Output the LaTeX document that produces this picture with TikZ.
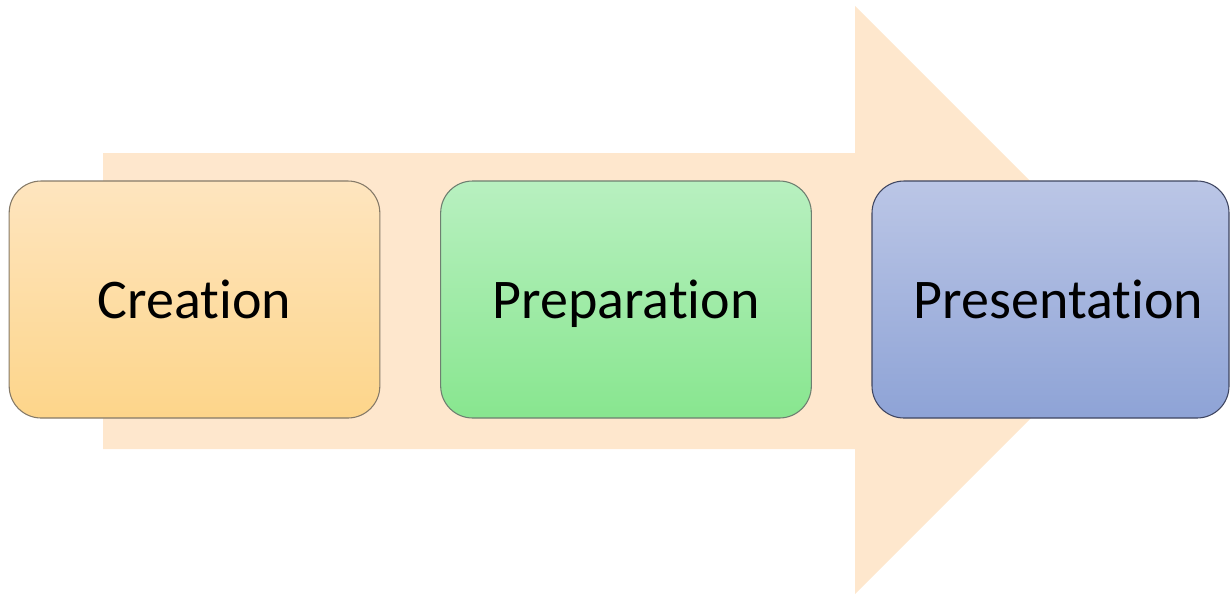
\documentclass[tikz,border=0pt]{standalone}
\usepackage{fontspec}
\setmainfont{Carlito}[Ligatures=NoCommon]
\definecolor{arrowfill}{HTML}{FEE7CD}
\definecolor{creaTop}{HTML}{FEE5BF}
\definecolor{creaBot}{HTML}{FDD58A}
\definecolor{creaLine}{HTML}{857A68}
\definecolor{prepTop}{HTML}{B8F0C0}
\definecolor{prepBot}{HTML}{88E68F}
\definecolor{prepLine}{HTML}{6E7F70}
\definecolor{presTop}{HTML}{BBC6E6}
\definecolor{presBot}{HTML}{8EA3D6}
\definecolor{presLine}{HTML}{3E4560}
\tikzset{
  stagebox/.style={rounded corners=24pt, minimum width=278pt, minimum height=177.75pt,
    line width=0.8pt, inner sep=0pt, text height=36pt, text depth=8.2pt,
    font=\fontsize{42}{50}\selectfont, text=black},
}
\begin{document}
\begin{tikzpicture}[x=0.75pt,y=-0.75pt]
\useasboundingbox (0,0) rectangle (1230,594);
\fill[arrowfill] (103,153) -- (855,153) -- (855,6) -- (1149,300) -- (855,594) -- (855,449) -- (103,449) -- cycle;
\node[stagebox, draw=creaLine, top color=creaTop, bottom color=creaBot] (crea) at (194.5,299.5) {Creation};
\node[stagebox, draw=prepLine, top color=prepTop, bottom color=prepBot] (prep) at (626,299.5) {Preparation};
\node[stagebox, draw=presLine, top color=presTop, bottom color=presBot, minimum width=267.75pt] (pres) at (1050.5,299.5) {\hspace*{12pt}Presentation};
\end{tikzpicture}
\end{document}
